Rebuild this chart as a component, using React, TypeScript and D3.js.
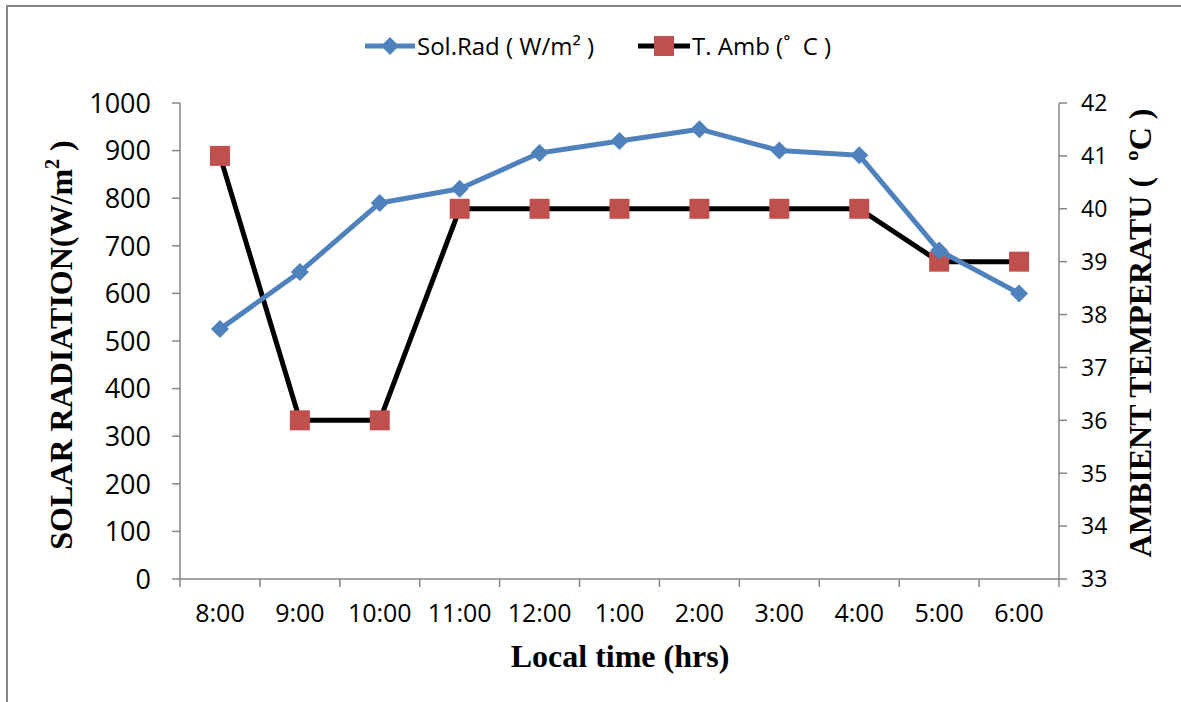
import React from "react";
import * as d3 from "d3";

const categories = ["8:00", "9:00", "10:00", "11:00", "12:00", "1:00", "2:00", "3:00", "4:00", "5:00", "6:00"];
const solRad = [525, 645, 790, 820, 895, 920, 945, 900, 890, 690, 600];
const tAmb = [41, 36, 36, 40, 40, 40, 40, 40, 40, 39, 39];
const leftTicks = [0, 100, 200, 300, 400, 500, 600, 700, 800, 900, 1000];
const rightTicks = [33, 34, 35, 36, 37, 38, 39, 40, 41, 42];

const W = 1181;
const H = 702;
const M = { left: 180, right: 1059, top: 103, bottom: 579 };
const AXIS = "#868686";
const BLUE = "#4F81BD";
const RED = "#C0504D";
const TICKFONT = "'Open Sans', 'Liberation Sans', sans-serif";
const TITLEFONT = "'Liberation Serif', 'Times New Roman', serif";

export default function App() {
  const x = d3.scaleBand<string>().domain(categories).range([M.left, M.right]);
  const yL = d3.scaleLinear().domain([0, 1000]).range([M.bottom, M.top]);
  const yR = d3.scaleLinear().domain([33, 42]).range([M.bottom, M.top]);
  const cx = (c: string) => (x(c) ?? 0) + x.bandwidth() / 2;

  const lineL = d3.line<number>().x((_, i) => cx(categories[i])).y((d) => yL(d));
  const lineR = d3.line<number>().x((_, i) => cx(categories[i])).y((d) => yR(d));

  const boundaries = d3.range(categories.length + 1).map((i) => M.left + i * x.bandwidth());

  const diamond = (px: number, py: number, r: number) =>
    `M${px},${py - r}L${px + r},${py}L${px},${py + r}L${px - r},${py}Z`;

  return (
    <svg width={W} height={H} style={{ position: "absolute", left: 0, top: 0, background: "#fff" }}>
      <rect x={7} y={6} width={W + 20} height={H + 20} fill="#fff" stroke={AXIS} strokeWidth={2} />

      {/* axes */}
      <line x1={M.left} x2={M.left} y1={M.top} y2={M.bottom} stroke={AXIS} strokeWidth={1.5} />
      <line x1={M.right} x2={M.right} y1={M.top} y2={M.bottom} stroke={AXIS} strokeWidth={1.5} />
      <line x1={M.left} x2={M.right} y1={M.bottom} y2={M.bottom} stroke={AXIS} strokeWidth={1.5} />
      {leftTicks.map((t) => (
        <g key={"l" + t}>
          <line x1={M.left - 8} x2={M.left} y1={yL(t)} y2={yL(t)} stroke={AXIS} strokeWidth={1.5} />
          <text x={M.left - 29} y={yL(t)} dy="0.36em" textAnchor="end" fontFamily={TICKFONT} fontSize={27} fill="#000">
            {t}
          </text>
        </g>
      ))}
      {rightTicks.map((t) => (
        <g key={"r" + t}>
          <line x1={M.right} x2={M.right + 8} y1={yR(t)} y2={yR(t)} stroke={AXIS} strokeWidth={1.5} />
          <text x={M.right + 22} y={yR(t)} dy="0.36em" textAnchor="start" fontFamily={TICKFONT} fontSize={23} fill="#000">
            {t}
          </text>
        </g>
      ))}
      {boundaries.map((b, i) => (
        <line key={"b" + i} x1={b} x2={b} y1={M.bottom} y2={M.bottom + 8} stroke={AXIS} strokeWidth={1.5} />
      ))}
      {categories.map((c) => (
        <text key={"c" + c} x={cx(c)} y={613} dy="0.36em" textAnchor="middle" fontFamily={TICKFONT} fontSize={25} fill="#000">
          {c}
        </text>
      ))}

      {/* series */}
      <path d={lineR(tAmb) ?? ""} fill="none" stroke="#000" strokeWidth={5} strokeLinejoin="round" />
      {tAmb.map((v, i) => (
        <rect key={"s" + i} x={cx(categories[i]) - 10} y={yR(v) - 10} width={20} height={20} fill={RED} />
      ))}
      <path d={lineL(solRad) ?? ""} fill="none" stroke={BLUE} strokeWidth={5} strokeLinejoin="round" />
      {solRad.map((v, i) => (
        <path key={"d" + i} d={diamond(cx(categories[i]), yL(v), 9)} fill={BLUE} />
      ))}

      {/* titles */}
      <text
        transform={`translate(72, ${(M.top + M.bottom) / 2 + 4}) rotate(-90)`}
        textAnchor="middle"
        fontFamily={TITLEFONT}
        fontWeight="bold"
        fontSize={32}
        fill="#000"
      >
        SOLAR RADIATION(W/m
        <tspan fontSize={20} dy={-13}>2</tspan>
        <tspan dy={13}> )</tspan>
      </text>
      <text
        transform={`translate(1151, ${(M.top + M.bottom) / 2 - 8}) rotate(-90)`}
        textAnchor="middle"
        fontFamily={TITLEFONT}
        fontWeight="bold"
        fontSize={32}
        fill="#000"
        style={{ whiteSpace: "pre" }}
      >
        {"AMBIENT TEMPERATU (  ºC )"}
      </text>
      <text x={620} y={667} textAnchor="middle" fontFamily={TITLEFONT} fontWeight="bold" fontSize={32} fill="#000">
        Local time (hrs)
      </text>

      {/* legend */}
      <g>
        <line x1={365} x2={415} y1={46} y2={46} stroke={BLUE} strokeWidth={5} />
        <path d={diamond(390, 46, 9)} fill={BLUE} />
        <text x={417} y={46} dy="0.36em" fontFamily={TICKFONT} fontSize={24} fill="#000">
          Sol.Rad ( W/m² )
        </text>
        <line x1={638} x2={690} y1={46} y2={46} stroke="#000" strokeWidth={5} />
        <rect x={654} y={36} width={20} height={20} fill={RED} />
        <text x={692} y={46} dy="0.36em" fontFamily={TICKFONT} fontSize={24} fill="#000" style={{ whiteSpace: "pre" }}>
          {"T. Amb (˚  C )"}
        </text>
      </g>
    </svg>
  );
}
